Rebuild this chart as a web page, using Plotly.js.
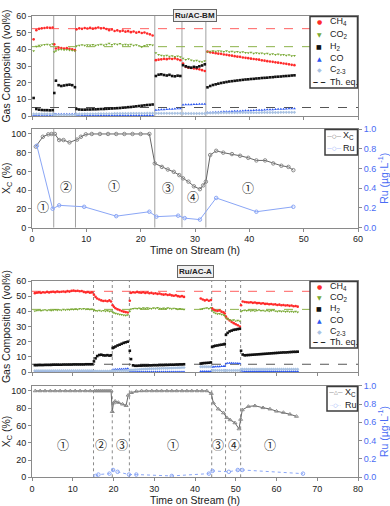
<!DOCTYPE html>
<html>
<head>
<meta charset="utf-8">
<script src="https://cdn.plot.ly/plotly-3.0.1.min.js"></script>
<style>
  html, body { margin: 0; padding: 0; background: #fff; }
  #chart { width: 390px; height: 506px; }
</style>
</head>
<body>
<div id="chart"></div>
<script>
// ---------- Ru/AC-BM : gas composition (vol%) ----------
const bmTime = [
  0.3, 0.8, 1.3, 1.8, 2.3, 2.8, 3.3, 3.8,
  4.1, 4.4, 4.9, 5.4, 5.9, 6.4, 6.9, 7.4, 7.9,
  8.2, 8.7, 9.2, 9.7, 10.2, 10.7, 11.2, 11.7, 12.2, 12.7,
  13.2, 13.7, 14.2, 14.7, 15.2, 15.7, 16.2, 16.7, 17.2, 17.7,
  18.2, 18.7, 19.2, 19.7, 20.2, 20.7, 21.2, 21.7, 22.2,
  22.8, 23.3, 23.8, 24.3, 24.8, 25.3, 25.8, 26.3, 26.8, 27.3,
  27.8, 28.3, 28.8, 29.3, 29.8, 30.3, 30.8, 31.3, 31.8,
  32.3, 32.8, 33.3, 33.8, 34.3, 34.8, 35.3, 35.8, 36.3, 36.8,
  37.3, 37.8, 38.3, 38.8, 39.3, 39.8, 40.3, 40.8, 41.3, 41.8,
  42.3, 42.8, 43.3, 43.8, 44.3, 44.8, 45.3, 45.8, 46.3, 46.8,
  47.3, 47.8, 48.3
];
const bmCH4 = [
  46.0, 51.5, 52.3, 52.6, 52.8, 53.0, 52.9, 53.1,
  43.0, 40.5, 41.0, 40.8, 40.5, 40.7, 40.3, 40.0, 39.5,
  52.0, 52.6, 52.3, 52.8, 52.5, 52.9, 52.4, 52.7, 53.1, 52.6,
  52.8, 52.2, 51.5, 51.9, 51.0, 51.4, 50.8, 51.2, 50.6, 50.9,
  50.3, 50.7, 50.0, 50.4, 49.8, 50.1, 49.5, 49.0, 48.3,
  33.5, 33.8, 34.0, 34.3, 34.1, 34.5, 34.2, 34.6, 34.0, 33.5,
  31.5, 29.5, 29.0, 28.8, 28.5, 28.3, 28.0, 27.5, 27.0,
  38.6, 38.2, 38.0, 37.7, 37.4, 37.3, 36.9, 36.7, 36.4, 36.2,
  35.9, 35.6, 35.5, 35.1, 34.9, 34.7, 34.4, 34.2, 34.0, 33.8,
  33.4, 33.2, 32.9, 32.7, 32.5, 32.2, 32.0, 31.8, 31.5, 31.3,
  31.0, 30.7, 30.5
];
const bmCO2 = [
  39.0, 41.8, 42.3, 42.5, 42.8, 43.0, 42.6, 43.2,
  38.5, 39.0, 39.8, 40.0, 39.6, 39.8, 39.5, 39.3, 39.0,
  42.0, 42.4, 42.6, 42.3, 42.7, 42.5, 42.8, 42.4, 42.6, 42.9,
  42.5, 43.0, 43.6, 42.8, 43.2, 42.9, 43.4, 42.7, 43.0, 42.6,
  42.9, 42.4, 42.7, 42.0, 41.5, 42.2, 42.6, 42.8, 42.5,
  37.8, 36.8, 36.4, 36.0, 36.3, 35.8, 36.1, 35.6, 35.9, 35.4,
  34.5, 33.8, 34.2, 33.5, 33.0, 33.4, 32.8, 32.5, 33.0,
  38.5, 38.8, 39.0, 38.7, 39.1, 38.9, 38.6, 39.0, 38.5, 38.8,
  38.3, 38.6, 38.2, 38.5, 38.0, 37.8, 38.1, 37.6, 37.9, 37.5,
  37.7, 37.2, 37.5, 37.0, 37.3, 36.8, 37.1, 36.6, 36.8, 36.3,
  36.6, 36.0, 36.2
];
const bmH2 = [
  10.8, 4.2, 3.8, 3.6, 3.5, 3.5, 3.4, 3.5,
  13.8, 21.2, 18.5, 18.0, 18.3, 18.6, 18.8, 18.5, 17.3,
  4.2, 3.9, 3.8, 3.8, 3.9, 3.9, 4.0, 4.0, 4.1, 4.2,
  4.2, 4.3, 4.4, 4.5, 4.6, 4.7, 4.8, 5.0, 5.1, 5.3,
  5.4, 5.6, 5.8, 6.0, 6.2, 6.4, 6.6, 6.7, 6.9,
  24.0, 24.8, 25.0, 24.6, 24.3, 24.7, 24.0, 23.8, 24.2, 24.0,
  30.5, 29.8, 29.3, 29.0, 29.5, 29.2, 29.8, 30.3, 31.0,
  17.2, 18.0, 18.6, 19.0, 19.4, 19.8, 20.1, 20.4, 20.7, 20.9,
  21.1, 21.3, 21.5, 21.7, 21.9, 22.0, 22.2, 22.3, 22.5, 22.6,
  22.8, 22.9, 23.0, 23.2, 23.3, 23.5, 23.6, 23.7, 23.9, 24.0,
  24.1, 24.3, 24.4
];
const bmCO = [
  0.4, 0.4, 0.3, 0.3, 0.3, 0.3, 0.3, 0.3,
  1.0, 1.1, 1.1, 1.1, 1.2, 1.2, 1.2, 1.2, 1.2,
  0.5, 0.5, 0.4, 0.4, 0.4, 0.4, 0.4, 0.4, 0.4, 0.4,
  0.4, 0.4, 0.4, 0.4, 0.4, 0.4, 0.4, 0.4, 0.4, 0.4,
  0.4, 0.4, 0.4, 0.4, 0.4, 0.4, 0.4, 0.4, 0.4,
  3.6, 3.7, 3.8, 3.9, 4.0, 4.1, 4.2, 4.3, 4.4, 4.5,
  6.7, 6.8, 6.9, 6.9, 7.0, 7.0, 7.1, 7.1, 7.2,
  2.0, 2.1, 2.2, 2.3, 2.4, 2.5, 2.6, 2.6, 2.7, 2.8,
  2.9, 3.0, 3.0, 3.1, 3.2, 3.3, 3.3, 3.4, 3.5, 3.6,
  3.6, 3.7, 3.8, 3.9, 3.9, 4.0, 4.1, 4.2, 4.2, 4.3,
  4.4, 4.5, 4.5
];
const bmC23 = [
  1.2, 1.2, 1.2, 1.2, 1.2, 1.2, 1.2, 1.2,
  0.6, 0.6, 0.6, 0.6, 0.6, 0.6, 0.6, 0.6, 0.6,
  1.2, 1.2, 1.2, 1.3, 1.3, 1.3, 1.3, 1.3, 1.4, 1.4,
  1.4, 1.4, 1.4, 1.4, 1.5, 1.5, 1.5, 1.5, 1.5, 1.5,
  1.6, 1.6, 1.6, 1.6, 1.6, 1.6, 1.7, 1.7, 1.7,
  1.6, 1.6, 1.6, 1.6, 1.6, 1.6, 1.6, 1.6, 1.6, 1.6,
  1.5, 1.5, 1.5, 1.5, 1.5, 1.5, 1.5, 1.5, 1.5,
  1.8, 1.8, 1.8, 1.8, 1.8, 1.9, 1.9, 1.9, 1.9, 1.9,
  1.9, 1.9, 2.0, 2.0, 2.0, 2.0, 2.0, 2.0, 2.0, 2.0,
  2.1, 2.1, 2.1, 2.1, 2.1, 2.1, 2.1, 2.2, 2.2, 2.2,
  2.2, 2.2, 2.2
];
const bmEq = [52.4, 41.6, 5.1]; // CH4, CO2, H2 thermodynamic equilibrium
const bmBounds = [4, 8, 22.6, 27.6, 32];

// ---------- Ru/AC-BM : conversion and Ru leaching ----------
const bmXcTime = [
  0.7, 2.0, 3.0, 3.6, 4.2, 5.0, 5.8, 6.9, 8.3, 9.0, 9.9, 11.0, 12.5, 14.0,
  15.5, 17.0, 18.5, 20.0, 21.6, 22.6, 23.9, 25.0, 26.1, 27.1, 27.8, 28.8,
  29.8, 30.9, 31.5, 32.0, 32.8, 33.9, 35.2, 36.8, 38.3, 39.8, 41.3, 42.9,
  44.4, 45.9, 47.2, 48.1
];
const bmXc = [
  86.5, 97, 99.6, 100, 100, 93.5, 93.5, 91, 94, 97, 99.6, 100, 100, 100,
  100, 100, 100, 100, 100, 68.5, 64.8, 62, 59.5, 56, 52.5, 49,
  44, 41, 45, 49, 77.5, 82, 80, 78.5, 76.7, 74.5, 71.7, 71.7,
  68.5, 66, 64.8, 61.3
];
const bmRuTime = [0.9, 3.8, 5.0, 9.6, 15.5, 21.6, 22.9, 26.9, 28.1, 30.9, 33.9, 41.3, 48.1];
const bmRu = [0.83, 0.19, 0.225, 0.21, 0.115, 0.16, 0.11, 0.12, 0.095, 0.08, 0.30, 0.16, 0.21];
const bmRegionT = [2.0, 6.2, 15.0, 25.1, 29.7, 39.8];
const bmRegionY = [22, 44, 45, 43, 33, 43];
const bmRegionLabel = ['①', '②', '①', '③', '④', '①'];

// ---------- Ru/AC-A : gas composition (vol%) ----------
const acTime = [
  0.7, 1.2, 1.7, 2.2, 2.7, 3.2, 3.7, 4.2, 4.7, 5.2,
  5.7, 6.2, 6.7, 7.2, 7.7, 8.2, 8.7, 9.2, 9.7, 10.2,
  10.7, 11.2, 11.7, 12.2, 12.7, 13.2, 13.7, 14.2, 14.7,
  15.2, 15.6, 16.0, 16.5, 17.0, 17.5, 18.0, 18.5, 19.0, 19.4,
  19.8, 20.1, 20.5, 21.0, 21.5, 22.0, 22.5, 23.0, 23.5,
  24.0, 24.3, 24.8, 25.3, 25.8, 26.3, 26.8, 27.3, 27.8, 28.3,
  28.8, 29.3, 29.8, 30.3, 30.8, 31.3, 31.8, 32.3, 32.8, 33.3,
  33.8, 34.3, 34.8, 35.3, 35.8, 36.3, 36.8, 37.3,
  41.4, 41.9, 42.4, 42.9, 43.4, 43.9,
  44.2, 44.6, 45.0, 45.5, 46.0, 46.5, 47.0, 47.3,
  47.6, 48.0, 48.5, 49.0, 49.5, 50.0, 50.5, 51.0,
  51.3, 51.7, 52.2, 52.7, 53.2, 53.7, 54.2, 54.7, 55.2, 55.7,
  56.2, 56.7, 57.2, 57.7, 58.2, 58.7, 59.2, 59.7, 60.2, 60.7,
  61.2, 61.7, 62.2, 62.7, 63.2, 63.7, 64.2, 64.7, 65.2
];
const acCH4 = [
  52.0, 52.3, 52.5, 52.2, 52.6, 52.4, 52.8, 52.5, 52.7, 52.9,
  52.6, 53.0, 52.7, 52.9, 53.1, 52.8, 53.3, 53.0, 53.5, 53.7,
  53.4, 53.6, 53.2, 53.4, 52.8, 52.5, 52.7, 52.3, 52.5,
  51.0, 49.5, 48.5, 47.8, 47.2, 46.8, 47.0, 46.6, 47.2, 46.5,
  44.0, 43.0, 42.0, 41.3, 40.8, 40.2, 39.8, 39.5, 39.2,
  47.0, 52.2, 52.6, 52.4, 52.8, 52.5, 52.3, 52.6, 52.1, 52.4,
  51.9, 52.2, 51.7, 51.9, 51.5, 51.8, 51.3, 51.0, 51.3, 50.8,
  51.0, 50.5, 50.3, 50.6, 50.0, 49.7, 50.0, 49.5,
  48.5, 47.8, 47.2, 47.6, 47.0, 47.4,
  42.0, 41.0, 40.5, 40.2, 40.6, 39.8, 39.3, 38.5,
  36.5, 35.0, 34.0, 33.0, 32.2, 31.5, 30.8, 30.0,
  44.0, 46.5, 46.2, 46.0, 45.8, 46.0, 45.6, 45.8, 45.4, 45.5,
  45.1, 45.3, 44.9, 45.0, 44.7, 44.8, 44.5, 44.6, 44.2, 44.4,
  44.0, 44.2, 43.8, 44.0, 43.6, 43.8, 43.4, 43.5, 43.1
];
const acCO2 = [
  40.2, 40.5, 40.8, 40.4, 40.7, 41.0, 40.6, 40.9, 40.5, 40.8,
  41.1, 40.7, 41.0, 40.8, 41.2, 40.9, 41.3, 41.0, 41.4, 41.2,
  41.6, 41.3, 41.7, 41.5, 41.8, 41.4, 41.6, 41.2, 41.4,
  40.8, 40.5, 40.3, 40.6, 40.2, 40.5, 40.1, 40.4, 40.0, 40.2,
  39.5, 39.0, 38.6, 38.3, 38.0, 37.8, 37.5, 37.3, 37.6,
  40.0, 41.5, 41.8, 42.0, 41.7, 42.1, 41.8, 42.2, 41.9, 42.3,
  42.0, 41.8, 42.2, 41.9, 42.4, 42.0, 41.7, 42.1, 41.8, 42.2,
  41.9, 41.6, 42.0, 41.7, 41.4, 41.8, 41.5, 41.2,
  41.5, 41.8, 42.0, 42.3, 41.8, 42.5,
  40.5, 39.5, 38.8, 38.3, 38.5, 37.9, 37.6, 37.2,
  35.5, 35.0, 34.5, 34.0, 34.3, 33.6, 34.0, 33.5,
  40.0, 40.5, 40.8, 40.4, 40.7, 40.3, 40.6, 40.2, 40.5, 40.9,
  40.4, 40.6, 40.2, 40.5, 40.1, 40.4, 40.7, 40.2, 40.0, 40.3,
  39.9, 40.2, 39.8, 40.1, 39.7, 40.0, 39.6, 39.9, 39.5
];
const acH2 = [
  4.5, 4.5, 4.6, 4.6, 4.6, 4.7, 4.7, 4.7, 4.7, 4.8,
  4.8, 4.8, 4.8, 4.8, 4.9, 4.9, 4.9, 4.9, 4.9, 5.0,
  5.0, 5.0, 5.0, 5.0, 5.0, 5.1, 5.1, 5.1, 5.1,
  7.0, 9.0, 10.5, 11.2, 11.4, 11.0, 10.9, 11.1, 10.8, 11.0,
  15.8, 16.2, 16.8, 17.5, 18.0, 18.6, 19.2, 19.6, 20.0,
  14.0, 8.5, 4.4, 4.1, 4.1, 4.2, 4.2, 4.3, 4.3, 4.3,
  4.4, 4.4, 4.5, 4.5, 4.5, 4.6, 4.6, 4.6, 4.7, 4.7,
  4.8, 4.8, 4.8, 4.9, 4.9, 5.0, 5.0, 5.1,
  5.6, 5.8, 5.9, 6.0, 6.1, 6.3,
  16.5, 17.0, 17.3, 17.5, 17.8, 18.0, 18.2, 18.5,
  24.5, 25.8, 26.8, 27.3, 27.8, 28.0, 28.3, 28.5,
  14.0, 11.5, 11.0, 11.1, 11.2, 11.3, 11.4, 11.5, 11.6, 11.7,
  11.8, 11.9, 12.0, 12.1, 12.2, 12.3, 12.4, 12.5, 12.6, 12.7,
  12.8, 12.9, 12.9, 13.0, 13.1, 13.2, 13.3, 13.3, 13.4
];
const acCO = [
  0.2, 0.2, 0.2, 0.2, 0.2, 0.2, 0.2, 0.2, 0.2, 0.2,
  0.2, 0.2, 0.2, 0.2, 0.2, 0.2, 0.2, 0.2, 0.2, 0.2,
  0.2, 0.2, 0.2, 0.2, 0.2, 0.2, 0.2, 0.2, 0.2,
  0.2, 0.2, 0.2, 0.2, 0.2, 0.2, 0.2, 0.2, 0.2, 0.2,
  1.5, 1.6, 1.7, 1.8, 1.9, 1.9, 2.0, 2.1, 2.2,
  0.2, 0.2, 0.2, 0.2, 0.2, 0.2, 0.2, 0.2, 0.2, 0.2,
  0.2, 0.2, 0.2, 0.2, 0.2, 0.2, 0.2, 0.2, 0.2, 0.2,
  0.2, 0.2, 0.2, 0.2, 0.2, 0.2, 0.2, 0.2,
  0.4, 0.4, 0.4, 0.4, 0.4, 0.4,
  3.3, 3.4, 3.5, 3.6, 3.6, 3.7, 3.7, 3.8,
  5.6, 5.8, 5.9, 5.9, 5.8, 5.8, 5.7, 5.6,
  1.0, 0.6, 0.5, 0.5, 0.5, 0.5, 0.5, 0.5, 0.5, 0.5,
  0.5, 0.5, 0.5, 0.5, 0.5, 0.5, 0.5, 0.5, 0.5, 0.5,
  0.5, 0.5, 0.5, 0.5, 0.5, 0.5, 0.5, 0.5, 0.5
];
const acC23 = [
  0.8, 0.8, 0.8, 0.8, 0.8, 0.8, 0.8, 0.8, 0.8, 0.8,
  0.8, 0.8, 0.8, 0.8, 0.8, 0.8, 0.8, 0.8, 0.8, 0.8,
  0.8, 0.8, 0.8, 0.8, 0.8, 0.8, 0.8, 0.8, 0.8,
  0.6, 0.6, 0.6, 0.6, 0.6, 0.6, 0.6, 0.6, 0.6, 0.6,
  0.8, 0.8, 0.8, 0.8, 0.8, 0.8, 0.8, 0.8, 0.8,
  1.2, 1.3, 1.4, 1.5, 1.6, 1.7, 1.8, 1.9, 2.0, 2.0,
  2.1, 2.1, 2.2, 2.2, 2.3, 2.3, 2.4, 2.4, 2.5, 2.5,
  2.6, 2.6, 2.7, 2.7, 2.8, 2.8, 2.9, 2.9,
  3.5, 3.5, 3.5, 3.5, 3.5, 3.5,
  1.0, 1.0, 1.0, 1.0, 1.0, 1.0, 1.0, 1.0,
  1.0, 1.0, 1.0, 1.0, 1.0, 1.0, 1.0, 1.0,
  1.8, 1.8, 1.8, 1.8, 1.8, 1.8, 1.8, 1.8, 1.8, 1.8,
  1.8, 1.8, 1.8, 1.8, 1.8, 1.8, 1.8, 1.8, 1.8, 1.8,
  1.8, 1.8, 1.8, 1.8, 1.8, 1.8, 1.8, 1.8, 1.8
];
const acEq = [53.2, 41.3, 5.1];
const acBounds = [15.1, 19.7, 23.9, 44.1, 47.5, 51.2];

// ---------- Ru/AC-A : conversion and Ru leaching ----------
const acXcTime = [
  0.8, 2.0, 3.2, 4.5, 5.7, 6.9, 8.2, 9.4, 10.6, 11.8, 13.1, 14.3,
  15.4, 15.9, 16.4, 16.9, 17.4, 17.9, 18.4, 18.9, 19.4,
  19.7, 20.0, 20.4, 21.2, 22.2, 23.1, 23.6, 24.4, 25.6,
  26.9, 28.1, 29.4, 30.6, 31.8, 33.1, 34.3, 35.5, 36.8, 38.0, 39.2, 40.5, 41.7, 42.9,
  44.0, 44.5, 45.7, 47.0, 47.8, 48.6, 49.8, 50.8, 51.2, 51.6,
  53.1, 54.7, 56.7, 58.4, 60.0, 61.7, 63.3, 64.9
];
const acXc = [
  100, 100, 100, 100, 100, 100, 100, 100, 100, 100, 100, 100,
  100, 100, 100, 100, 100, 100, 100, 100, 100,
  76, 86, 88, 86.6, 84.7, 83, 95, 98, 99.5,
  100, 100, 100, 100, 100, 100, 100, 100, 100, 100, 100, 100, 100, 100,
  97, 86, 79, 74.5, 69, 66.5, 63, 56, 67, 78,
  82, 82.8, 80.5, 79, 76.5, 75, 73, 70.5
];
const acRuTime = [15.6, 16.3, 19.0, 19.9, 21.0, 23.8, 25.6, 34.3, 43.4, 44.3, 48.3, 50.5, 51.6, 66.5];
const acRu = [0.015, 0.03, 0.04, 0.08, 0.06, 0.03, 0.03, 0.015, 0.04, 0.07, 0.06, 0.08, 0.08, 0.04];
const acRegionT = [7.7, 16.9, 22.0, 34.7, 45.7, 49.6, 58.4];
const acRegionY = [38, 38, 38, 38, 38, 38, 38];
const acRegionLabel = ['①', '②', '③', '①', '③', '④', '①'];

// ---------- page geometry (pixels -> paper) ----------
const W = 390, H = 506, ML = 32, MR = 32;
const px = (x) => (x - ML) / (W - ML - MR);
const py = (y) => 1 - y / H;

const blue = '#4a6cf4';
const gas = [
  { name: 'CH<sub>4</sub>', color: '#ff2a2a', symbol: 'circle', glyph: '●' },
  { name: 'CO<sub>2</sub>', color: '#79a935', symbol: 'triangle-down', glyph: '▼' },
  { name: 'H<sub>2</sub>', color: '#111111', symbol: 'square', glyph: '■' },
  { name: 'CO', color: '#2b56f0', symbol: 'triangle-up', glyph: '▲' },
  { name: 'C<sub>2-3</sub>', color: '#a9c2e2', symbol: 'diamond', glyph: '◆' },
];
const eqColors = ['#ff6060', '#8db24a', '#555555'];

const data = [];
const shapes = [];
const annotations = [];

function addGas(t, series, xa, ya) {
  series.forEach((ys, i) => {
    data.push({
      type: 'scatter', mode: 'markers', x: t, y: ys, xaxis: xa, yaxis: ya,
      marker: { color: gas[i].color, size: 2.6, symbol: gas[i].symbol },
      hoverinfo: 'skip',
    });
  });
}
addGas(bmTime, [bmCH4, bmCO2, bmH2, bmCO, bmC23], 'x', 'y');
addGas(acTime, [acCH4, acCO2, acH2, acCO, acC23], 'x3', 'y4');

data.push({
  type: 'scatter', mode: 'lines+markers', x: bmXcTime, y: bmXc, xaxis: 'x2', yaxis: 'y2',
  line: { color: '#666', width: 1 }, marker: { symbol: 'circle-open', size: 3.5, color: '#8a8a8a' },
});
data.push({
  type: 'scatter', mode: 'lines+markers', x: bmRuTime, y: bmRu, xaxis: 'x2', yaxis: 'y3',
  line: { color: '#8aa6f6', width: 1 }, marker: { symbol: 'circle-open', size: 3.5, color: '#8aa6f6' },
});
data.push({
  type: 'scatter', mode: 'lines+markers', x: acXcTime, y: acXc, xaxis: 'x4', yaxis: 'y5',
  line: { color: '#666', width: 1 }, marker: { symbol: 'triangle-up-open', size: 3.5, color: '#8a8a8a' },
});
data.push({
  type: 'scatter', mode: 'lines+markers', x: acRuTime, y: acRu, xaxis: 'x4', yaxis: 'y6',
  line: { color: '#8aa6f6', width: 1, dash: 'dot' }, marker: { symbol: 'circle-open', size: 3.5, color: '#8aa6f6' },
});

// stage boundaries
bmBounds.forEach((b) => {
  [['x', 'y'], ['x2', 'y2']].forEach(([xa, ya]) => {
    shapes.push({ type: 'line', xref: xa, yref: ya + ' domain', x0: b, x1: b, y0: 0, y1: 1,
      line: { color: '#a0a0a0', width: 1 }, layer: 'below' });
  });
});
acBounds.forEach((b) => {
  [['x3', 'y4'], ['x4', 'y5']].forEach(([xa, ya]) => {
    shapes.push({ type: 'line', xref: xa, yref: ya + ' domain', x0: b, x1: b, y0: 0, y1: 1,
      line: { color: '#8a8a8a', width: 1, dash: 'dot' }, layer: 'below' });
  });
});

// thermodynamic equilibrium lines
[[bmEq, 'x', 'y'], [acEq, 'x3', 'y4']].forEach(([eq, xa, ya]) => {
  eq.forEach((v, i) => {
    shapes.push({ type: 'line', xref: xa + ' domain', yref: ya,
      x0: 0, x1: 1, y0: v, y1: v, line: { color: eqColors[i], width: 1, dash: 'dash' }, layer: 'below' });
  });
});

// stage labels
function addRegions(ts, ys, labels, xa, ya) {
  ts.forEach((t, i) => annotations.push({
    x: t, y: ys[i], xref: xa, yref: ya, text: labels[i], showarrow: false,
    font: { family: 'Noto Sans CJK JP', size: 12, color: '#222' },
  }));
}
addRegions(bmRegionT, bmRegionY, bmRegionLabel, 'x2', 'y2');
addRegions(acRegionT, acRegionY, acRegionLabel, 'x4', 'y5');

// hand-made legends (drawn inside the plot like the original)
// frame: rectangle in the subplot's own domain coordinates
function legendBox(xa, ya, dom, left, top, bottom) {
  const [y0px, y1px] = dom; // pixel top / bottom of that subplot
  const fx = (p) => (p - ML) / (W - ML - MR);
  const fy = (p) => (y1px - p) / (y1px - y0px);
  shapes.push({ type: 'rect', xref: xa + ' domain', yref: ya + ' domain',
    x0: fx(left), x1: fx(357.5), y0: fy(bottom), y1: fy(top + 0.5),
    fillcolor: '#ffffff', line: { color: '#3c3c3c', width: 1.5 }, layer: 'above' });
}
function gasLegend(xa, ya, dom, top, bottom) {
  legendBox(xa, ya, dom, 310, top, bottom);
  const step = (bottom - top) / 6;
  gas.forEach((g, i) => {
    const yy = py(top + step * (i + 0.5));
    annotations.push({ x: px(319), y: yy, xref: 'paper', yref: 'paper', xanchor: 'center', yanchor: 'middle',
      text: g.glyph, showarrow: false, font: { family: 'DejaVu Sans', size: 6, color: g.color } });
    annotations.push({ x: px(328), y: yy, xref: 'paper', yref: 'paper', xanchor: 'left', yanchor: 'middle',
      text: g.name, showarrow: false, font: { size: 9, color: '#222' } });
  });
  const yEq = py(top + step * 5.5);
  annotations.push({ x: px(319), y: yEq, xref: 'paper', yref: 'paper', xanchor: 'center', yanchor: 'middle',
    text: '<b>– –</b>', showarrow: false, font: { size: 9, color: '#222' } });
  annotations.push({ x: px(328), y: yEq, xref: 'paper', yref: 'paper', xanchor: 'left', yanchor: 'middle',
    text: 'Th. eq.', showarrow: false, font: { size: 9, color: '#222' } });
}
function xcLegend(xa, ya, dom, left, top, bottom, xcGlyph, ruLine) {
  legendBox(xa, ya, dom, left, top, bottom);
  const rows = [
    { text: 'X<sub>C</sub>', color: '#666', glyph: '—' + xcGlyph + '—' },
    { text: 'Ru', color: '#8aa6f6', glyph: ruLine },
  ];
  const step = (bottom - top) / 2;
  rows.forEach((r, i) => {
    const yy = py(top + step * (i + 0.5));
    annotations.push({ x: px(left + 8.5), y: yy, xref: 'paper', yref: 'paper', xanchor: 'center', yanchor: 'middle',
      text: r.glyph, showarrow: false, font: { family: 'DejaVu Sans', size: 5, color: r.color } });
    annotations.push({ x: px(left + 16), y: yy, xref: 'paper', yref: 'paper', xanchor: 'left', yanchor: 'middle',
      text: r.text, showarrow: false, font: { size: 9, color: '#222' } });
  });
}
gasLegend('x', 'y', [16, 116], 16, 88);
xcLegend('x2', 'y2', [129, 227.5], 325, 129, 155, '○', '—○—');
gasLegend('x3', 'y4', [281, 372], 281, 348);
xcLegend('x4', 'y5', [385.7, 477.3], 327, 386, 411, '△', '··○··');

// sample titles
[['<b>Ru/AC-BM</b>', 9], ['<b>Ru/AC-A</b>', 271]].forEach(([txt, y]) => {
  annotations.push({ x: 0.5, y: py(y), xref: 'paper', yref: 'paper', text: txt, showarrow: false,
    bgcolor: '#efefef', bordercolor: '#666', borderwidth: 1, borderpad: 1,
    font: { size: 8, color: '#222' } });
});

const axisBase = {
  showline: true, linecolor: '#8a8a8a', linewidth: 1, mirror: true,
  ticks: 'outside', ticklen: 3, tickcolor: '#8a8a8a',
  showgrid: false, zeroline: false,
  tickfont: { size: 9, color: '#222' },
};
const titleFont = { size: 10.5, color: '#222' };

const layout = {
  width: W, height: H,
  margin: { l: ML, r: MR, t: 0, b: 0 },
  paper_bgcolor: '#fff', plot_bgcolor: '#fff',
  font: { family: 'Liberation Sans, Arial, sans-serif', color: '#222' },
  showlegend: false,
  xaxis: { ...axisBase, anchor: 'y', range: [0, 60], dtick: 10, showticklabels: false },
  yaxis: { ...axisBase, anchor: 'x', domain: [py(116), py(16)], range: [0, 60], dtick: 10,
    title: { text: 'Gas Composition (vol%)', font: titleFont, standoff: 4 } },
  xaxis2: { ...axisBase, anchor: 'y2', range: [0, 60], dtick: 10,
    title: { text: 'Time on Stream (h)', font: titleFont, standoff: 3 } },
  yaxis2: { ...axisBase, anchor: 'x2', domain: [py(227.5), py(129)], range: [0, 105.3],
    tickvals: [0, 20, 40, 60, 80, 100],
    title: { text: 'X<sub>C</sub> (%)', font: titleFont, standoff: 4 } },
  yaxis3: { ...axisBase, mirror: false, anchor: 'x2', overlaying: 'y2', side: 'right',
    range: [0, 1], dtick: 0.2, tickformat: '.1f', tickfont: { size: 9, color: blue },
    title: { text: 'Ru (µg·L<sup>-1</sup>)', font: { size: 10.5, color: blue }, standoff: 4 } },
  xaxis3: { ...axisBase, anchor: 'y4', range: [0, 80], dtick: 10, showticklabels: false },
  yaxis4: { ...axisBase, anchor: 'x3', domain: [py(372), py(281)], range: [0, 60], dtick: 10,
    title: { text: 'Gas Composition (vol%)', font: titleFont, standoff: 4 } },
  xaxis4: { ...axisBase, anchor: 'y5', range: [0, 80], dtick: 10,
    title: { text: 'Time on Stream (h)', font: titleFont, standoff: 3 } },
  yaxis5: { ...axisBase, anchor: 'x4', domain: [py(477.3), py(385.7)], range: [0, 106],
    tickvals: [0, 20, 40, 60, 80, 100],
    title: { text: 'X<sub>C</sub> (%)', font: titleFont, standoff: 4 } },
  yaxis6: { ...axisBase, mirror: false, anchor: 'x4', overlaying: 'y5', side: 'right',
    range: [0, 1], dtick: 0.2, tickformat: '.1f', tickfont: { size: 9, color: blue },
    title: { text: 'Ru (µg·L<sup>-1</sup>)', font: { size: 10.5, color: blue }, standoff: 4 } },
  shapes: shapes,
  annotations: annotations,
};

Plotly.newPlot('chart', data, layout, { staticPlot: true, displayModeBar: false });
</script>
</body>
</html>
